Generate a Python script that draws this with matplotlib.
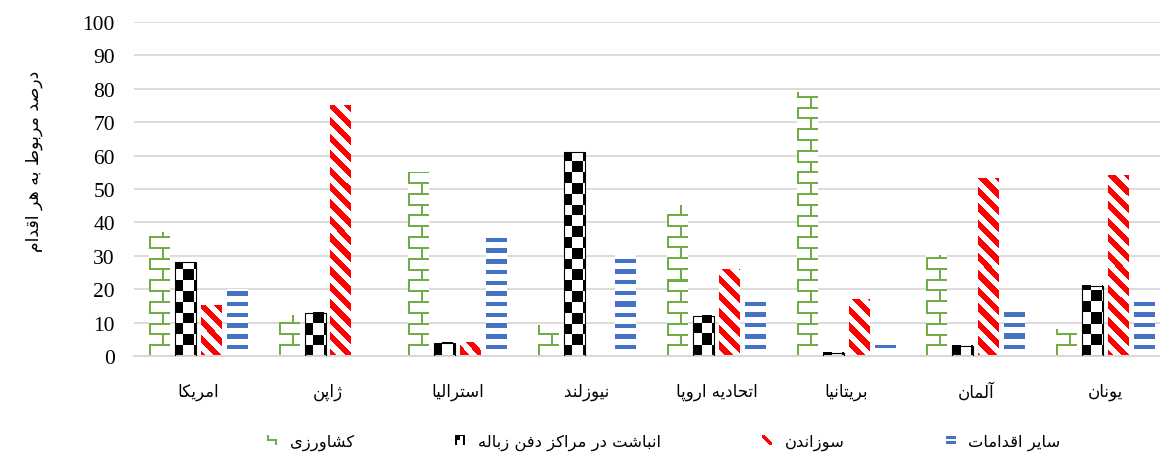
import numpy as np
import matplotlib
matplotlib.use("Agg")
import matplotlib.pyplot as plt
from matplotlib.legend_handler import HandlerBase
from matplotlib.image import BboxImage
from matplotlib.transforms import Bbox, TransformedBbox
from matplotlib.patches import Rectangle

countries = ["امریکا", "ژاپن", "استرالیا", "نیوزلند",
             "اتحادیه اروپا", "بریتانیا", "آلمان", "یونان"]
series_names = ["کشاورزی", "انباشت در مراکز دفن زباله", "سوزاندن", "سایر اقدامات"]
agriculture = [37, 12, 55, 9, 45, 79, 30, 8]
landfill = [28, 13, 4, 61, 12, 1, 3, 21]
incineration = [15, 75, 4, 0, 26, 17, 53, 54]
other = [20, 0, 37, 30, 16, 3, 13, 16]
ylabel = "درصد مربوط به هر اقدام"

# --- minimal persian shaping (matplotlib has no complex text layout) ---
FORMS = {
    "ا": (0xFE8D, 0xFE8E, None, None), "آ": (0xFE81, 0xFE82, None, None),
    "ب": (0xFE8F, 0xFE90, 0xFE91, 0xFE92), "پ": (0xFB56, 0xFB57, 0xFB58, 0xFB59),
    "ت": (0xFE95, 0xFE96, 0xFE97, 0xFE98), "ح": (0xFEA1, 0xFEA2, 0xFEA3, 0xFEA4),
    "د": (0xFEA9, 0xFEAA, None, None), "ر": (0xFEAD, 0xFEAE, None, None),
    "ز": (0xFEAF, 0xFEB0, None, None), "ژ": (0xFB8A, 0xFB8B, None, None),
    "س": (0xFEB1, 0xFEB2, 0xFEB3, 0xFEB4), "ش": (0xFEB5, 0xFEB6, 0xFEB7, 0xFEB8),
    "ص": (0xFEB9, 0xFEBA, 0xFEBB, 0xFEBC), "ط": (0xFEC1, 0xFEC2, 0xFEC3, 0xFEC4),
    "ف": (0xFED1, 0xFED2, 0xFED3, 0xFED4), "ق": (0xFED5, 0xFED6, 0xFED7, 0xFED8),
    "ک": (0xFB8E, 0xFB8F, 0xFB90, 0xFB91), "ل": (0xFEDD, 0xFEDE, 0xFEDF, 0xFEE0),
    "م": (0xFEE1, 0xFEE2, 0xFEE3, 0xFEE4), "ن": (0xFEE5, 0xFEE6, 0xFEE7, 0xFEE8),
    "ه": (0xFEE9, 0xFEEA, 0xFEEB, 0xFEEC), "و": (0xFEED, 0xFEEE, None, None),
    "ی": (0xFBFC, 0xFBFD, 0xFBFE, 0xFBFF),
}


def fa(text):
    out = []
    for i, ch in enumerate(text):
        f = FORMS.get(ch)
        if f is None:
            out.append(ch)
            continue
        prev = FORMS.get(text[i - 1]) if i > 0 else None
        nxt = FORMS.get(text[i + 1]) if i < len(text) - 1 else None
        jp = prev is not None and prev[2] is not None
        jn = f[2] is not None and nxt is not None
        cp = f[3] if (jp and jn) else f[1] if jp else f[2] if jn else f[0]
        out.append(chr(cp))
    return "".join(reversed(out))


# --- fill patterns; X = pixels from figure left, Y = pixels above the x axis ---
GREEN = np.array([112, 173, 71]) / 255
RED = np.array([255, 0, 0]) / 255
BLUE = np.array([68, 114, 196]) / 255
BLACK = np.zeros(3)


def paint(mask, color):
    img = np.ones(mask.shape + (3,))
    img[mask] = color
    return img


def brick(X, Y):
    k = np.floor((Y - 9.7) / 10.8)
    m = ((Y - 9.7) % 10.8) < 2
    m |= (k % 2 == 1) & (((X - 149.3) % 25.9) < 2)
    m |= (k % 2 == 0) & (((X - 162.3) % 25.9) < 2)
    return paint(m, GREEN)


def checker(X, Y):
    s = np.floor((X - 183.3) / 10.8) + np.floor(Y / 10.8)
    return paint(s % 2 == 1, BLACK)


def diagonal(X, Y):
    return paint(((X + Y) % 16.5) < 8.3, RED)


def stripes(X, Y):
    return paint(((Y - 6.7) % 10.67) < 4.5, BLUE)


# small legend keys
def key_tile(kind):
    r = np.arange(10)[:, None] * np.ones((1, 10), int)
    c = r.T
    if kind == 0:
        m = ((c < 2) & (r < 6)) | ((r >= 4) & (r < 6)) | ((c >= 8) & (r >= 4))
        return paint(m, GREEN)
    if kind == 1:
        m = (c < 2) | (c >= 8) | ((r < 5) & (c < 5)) | (r < 1)
        return paint(m, BLACK)
    if kind == 2:
        return paint(np.abs(r - c) < 3, RED)
    return paint(((r >= 1) & (r < 4)) | ((r >= 6) & (r < 9)), BLUE)


fig = plt.figure(figsize=(11.6, 4.56), dpi=100)
ax = fig.add_axes([133.7 / 1160, 1 - 357 / 456, (1170 - 133.7) / 1160, 334 / 456])
ax.set_xlim(-0.5, 7.5)
ax.set_ylim(0, 100)

x = np.arange(len(countries))
width = 0.162
offsets = [-0.3, -0.1, 0.1, 0.3]
series = [agriculture, landfill, incineration, other]
patterns = [brick, checker, diagonal, stripes]

for vals, off, pat in zip(series, offsets, patterns):
    bars = ax.bar(x + off, vals, width, color="none", edgecolor="none", zorder=3)
    for b in bars:
        h = b.get_height()
        if h <= 0:
            continue
        x0 = b.get_x()
        (px0, py0), (px1, py1) = ax.transData.transform([(x0, 0), (x0 + width, h)])
        nc = max(1, int(round(px1 - px0)))
        nr = max(1, int(round(py1 - py0)))
        X = px0 + (np.arange(nc) + 0.5) * (px1 - px0) / nc
        Y = (py1 - py0) - (np.arange(nr) + 0.5) * (py1 - py0) / nr
        XX, YY = np.meshgrid(X, Y)
        ax.imshow(pat(XX, YY), extent=(x0, x0 + width, 0, h), origin="upper",
                  interpolation="nearest", aspect="auto", zorder=2)
        if pat is checker:
            ax.add_patch(Rectangle((x0, 0), width, h, fill=False,
                                   edgecolor="black", linewidth=0.8, zorder=3))

ax.set_xlim(-0.5, 7.5)
ax.set_ylim(0, 100)
ax.set_yticks(range(0, 101, 10))
ax.set_xticks(x)
ax.set_xticklabels([fa(c) for c in countries], family="DejaVu Sans", fontsize=12)
for t in ax.get_yticklabels():
    t.set_family("Liberation Serif")
    t.set_fontsize(15.5)
ax.tick_params(length=0)
ax.tick_params(axis="y", pad=13.5)
ax.tick_params(axis="x", pad=19)
ax.grid(axis="y", color="#d9d9d9", linewidth=1.3, zorder=0)
ax.set_axisbelow(True)
for s in ["top", "right", "left"]:
    ax.spines[s].set_visible(False)
ax.spines["bottom"].set_color("#d9d9d9")
ax.spines["bottom"].set_linewidth(1.5)

ax.set_ylabel(fa(ylabel), family="DejaVu Sans", fontsize=12.5)
ax.yaxis.set_label_coords(-0.088, 0.585)


class PatternKey(HandlerBase):
    def __init__(self, tile):
        super().__init__()
        self.tile = tile

    def create_artists(self, legend, orig_handle, xdescent, ydescent,
                       width, height, fontsize, trans):
        s = 10 * 72 / fig.dpi
        bb = Bbox.from_bounds(-xdescent + width - s, -ydescent + (height - s) / 2, s, s)
        img = BboxImage(TransformedBbox(bb, trans), interpolation="nearest")
        img.set_data(self.tile)
        return [img]


handles = [Rectangle((0, 0), 1, 1) for _ in series_names]
handler_map = {h: PatternKey(key_tile(i)) for i, h in enumerate(handles)}
fig.legend(handles, [fa(n) for n in series_names], handler_map=handler_map,
           loc="center", bbox_to_anchor=(0.571, 0.028), ncol=4, frameon=False,
           prop={"family": "DejaVu Sans", "size": 11.8}, handlelength=0.8,
           handletextpad=0.75, columnspacing=6.0)

fig.savefig("out.png", dpi=100)
